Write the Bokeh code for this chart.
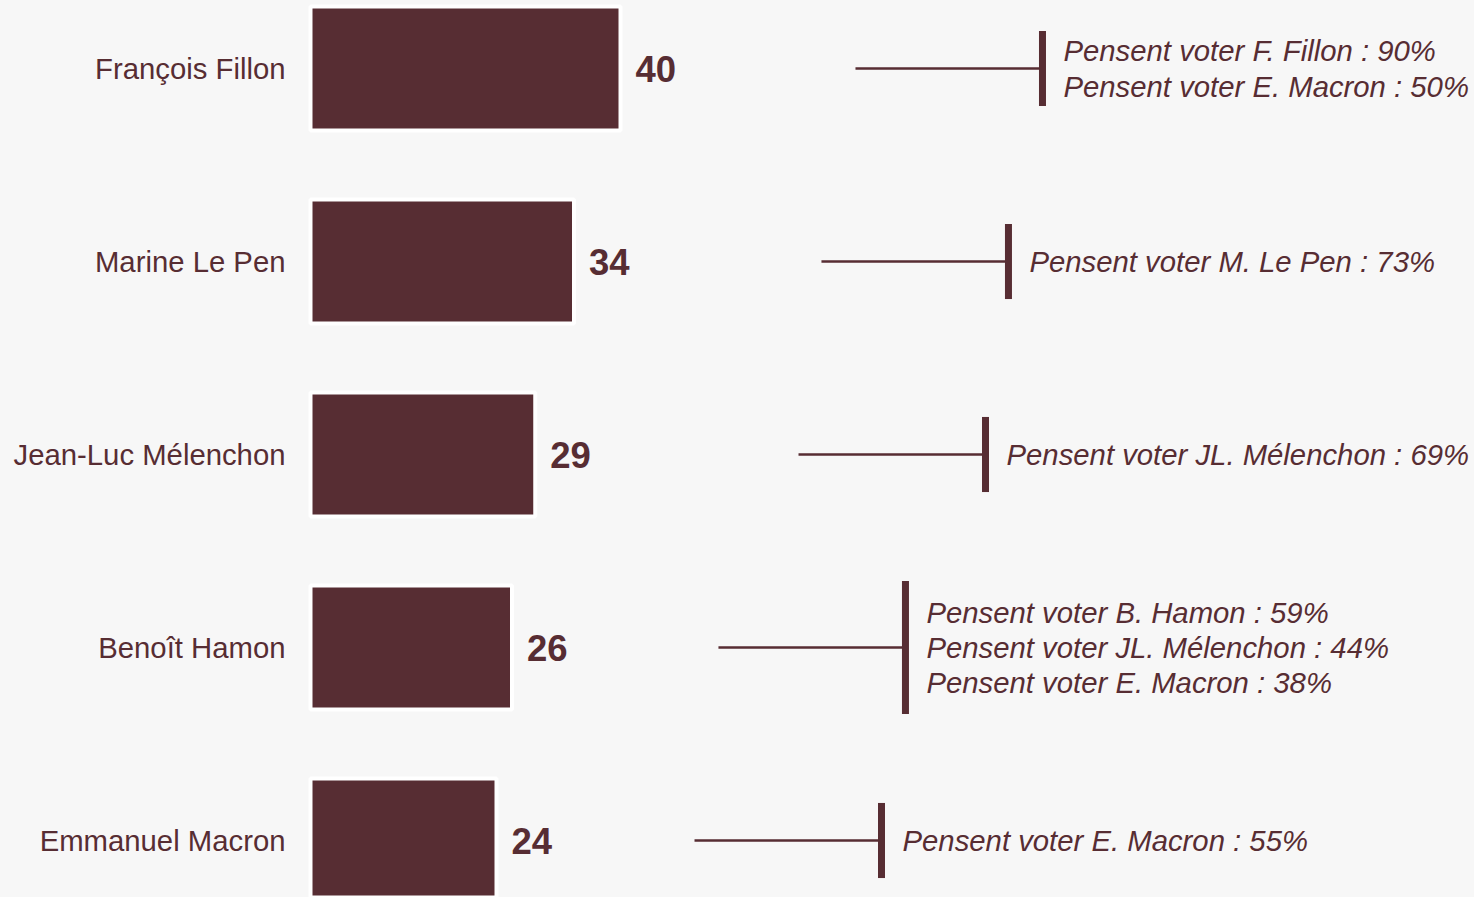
import numpy as np
from bokeh.plotting import figure
from bokeh.models import ColumnDataSource, Range1d
from bokeh.core.properties import value
from bokeh.embed import file_html
from bokeh.resources import INLINE

# ---- data ----
candidates = ["François Fillon", "Marine Le Pen", "Jean-Luc Mélenchon", "Benoît Hamon", "Emmanuel Macron"]
scores = [40, 34, 29, 26, 24]
notes = [
    ["Pensent voter F. Fillon : 90%", "Pensent voter E. Macron : 50%"],
    ["Pensent voter M. Le Pen : 73%"],
    ["Pensent voter JL. Mélenchon : 69%"],
    ["Pensent voter B. Hamon : 59%", "Pensent voter JL. Mélenchon : 44%", "Pensent voter E. Macron : 38%"],
    ["Pensent voter E. Macron : 55%"],
]

# ---- layout (annotation bracket positions in x units) ----
bracket_x = [94.45, 90.06, 87.1, 76.77, 73.68]
lead_len = 24.13

COL = "#572d33"
BG = "#f7f7f7"
FONT = "Liberation Sans"

W, H = 1474, 897
px_per_x = 7.75
px_per_y = 193.0
x0 = -310 / px_per_x
x1 = x0 + W / px_per_x
y1 = 4 + 68 / px_per_y
y0 = y1 - H / px_per_y

n = len(candidates)
ypos = list(np.arange(n)[::-1].astype(float))  # first candidate at top

p = figure(width=W, height=H, output_backend="svg", toolbar_location=None,
           x_range=Range1d(x0, x1), y_range=Range1d(y0, y1),
           min_border=0, background_fill_color=BG, border_fill_color=BG)
p.axis.visible = False
p.grid.visible = False
p.outline_line_color = None

src = ColumnDataSource(dict(y=ypos, v=scores, name=candidates,
                            lbl=[str(s) for s in scores]))
p.hbar(y="y", left=0, right="v", height=0.642, source=src,
       fill_color=COL, line_color="white", line_width=4)

p.text(x="v", y="y", text="lbl", source=src, x_offset=15,
       text_font=value(FONT), text_font_style="bold", text_font_size="36.5px",
       text_color=COL, text_baseline="middle", text_align="left")

p.text(x=0, y="y", text="name", source=src, x_offset=-25,
       text_font=value(FONT), text_font_size="29.3px",
       text_color=COL, text_baseline="middle", text_align="right")

# annotations
nlines = [len(nt) for nt in notes]
half = [(0.689 if k >= 3 else 0.389) / 2 for k in nlines]
asrc = ColumnDataSource(dict(
    y=ypos, bx=bracket_x, lx=[b - lead_len for b in bracket_x],
    ylo=[y - h for y, h in zip(ypos, half)], yhi=[y + h for y, h in zip(ypos, half)],
    txt=["\n".join(nt) for nt in notes]))
p.segment(x0="lx", y0="y", x1="bx", y1="y", source=asrc, line_color=COL, line_width=2.5)
p.segment(x0="bx", y0="ylo", x1="bx", y1="yhi", source=asrc, line_color=COL, line_width=7)
p.text(x="bx", y="y", text="txt", source=asrc, x_offset=21,
       text_font=value(FONT), text_font_style="italic", text_font_size="29.3px",
       text_color=COL, text_baseline="middle", text_align="left", text_line_height=1.07)

html = file_html(p, INLINE)
html = html.replace("<head>", "<head><style>html,body{background:%s;}</style>" % BG, 1)
open("out.html", "w").write(html)
